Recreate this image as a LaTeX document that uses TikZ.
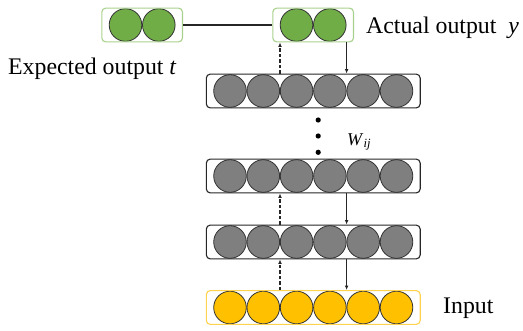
\documentclass[tikz,border=0pt]{standalone}
\usepackage{fontspec}
\setmainfont{Liberation Serif}
\newfontfamily\lblfont{Liberation Serif}
\usetikzlibrary{arrows.meta,positioning,fit}
\definecolor{outg}{HTML}{70AD47}
\definecolor{outline}{HTML}{A9D18E}
\definecolor{hid}{HTML}{7F7F7F}
\definecolor{inp}{HTML}{FFC000}
\definecolor{inline}{HTML}{FFD34D}

\begin{document}
\begin{tikzpicture}[x=1pt, y=-1pt, >={Latex[length=4.5pt,width=3.8pt]},
  unit/.style={circle, draw=black!80, line width=0.8pt, minimum size=32.6pt, inner sep=0pt},
  layer/.style={draw=black!85, line width=1.1pt, rounded corners=4pt, inner xsep=7pt, inner ysep=0.2pt},
  conn/.style={draw=black!85, line width=1.1pt},
  lbl/.style={font=\lblfont\fontsize{23.8}{26}\selectfont, inner sep=0pt}]
\useasboundingbox (0,0) rectangle (523,330);

% hidden layers and input layer, six units each
\foreach \n/\y/\c in {h1/91/hid, h2/176/hid, h3/242/hid, in/307.5/inp} {
  \foreach \i in {1,...,6}
    \node[unit, fill=\c] (\n-\i) at ({196.7+33.3*\i},\y) {};
}
\node[layer, fit=(h1-1)(h1-6)] (h1) {};
\node[layer, fit=(h2-1)(h2-6)] (h2) {};
\node[layer, fit=(h3-1)(h3-6)] (h3) {};
\node[layer, draw=inline, fit=(in-1)(in-6)] (in) {};

% expected output t and actual output y
\foreach \i in {1,2} {
  \node[unit, fill=outg] (t-\i) at ({92.2+33.3*\i},25) {};
  \node[unit, fill=outg] (y-\i) at ({263.2+33.3*\i},25) {};
}
\node[layer, draw=outline, fit=(t-1)(t-2)] (t) {};
\node[layer, draw=outline, fit=(y-1)(y-2)] (y) {};
\draw[conn] (t) -- (y);

% forward (solid) and backward (dashed) passes
\draw[conn, ->] (y.south -| h1-4.east) -- (h1.north -| h1-4.east);
\draw[conn, ->, dash pattern=on 3.5pt off 2pt] (h1.north -| h1-2.east) -- (y.south -| h1-2.east);
\draw[conn, ->] (h2.south -| h2-4.east) -- (h3.north -| h2-4.east);
\draw[conn, ->, dash pattern=on 3.5pt off 2pt] (h3.north -| h2-2.east) -- (h2.south -| h2-2.east);
\draw[conn, ->] (h3.south -| h3-4.east) -- (in.north -| h3-4.east);
\draw[conn, ->, dash pattern=on 3.5pt off 2pt] (in.north -| h3-2.east) -- (h3.south -| h3-2.east);

\foreach \y in {120,136,152.3}
  \fill (318.2,\y) circle (2.6);

\node[lbl, anchor=base west] (act) at (366,33.5) {Actual output\ \ \textit{y}};
\node[lbl, anchor=base west] (exp) at (8,74.3) {Expected output \textit{t}};
\node[lbl, anchor=base west] (inlbl) at (443,313) {Input};
\node[lbl, font=\lblfont\fontsize{18}{20}\selectfont, anchor=base west] (w) at (347,145) {\textit{W}\textsubscript{\textit{ij}}};
\end{tikzpicture}
\end{document}
